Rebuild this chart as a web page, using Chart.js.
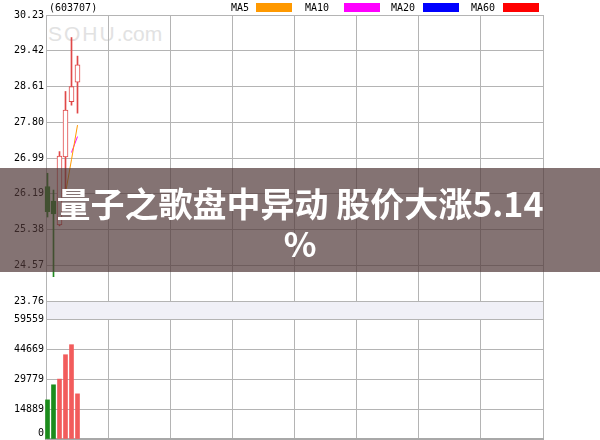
<!DOCTYPE html>
<html>
<head>
<meta charset="utf-8">
<script src="https://cdn.jsdelivr.net/npm/chart.js@4/dist/chart.umd.min.js"></script>
<style>
html,body{margin:0;padding:0;background:#fff;width:600px;height:440px;overflow:hidden;}
#wrap{position:relative;width:600px;height:440px;}
.abs{position:absolute;}
.mono{font-family:"DejaVu Sans Mono",monospace;font-size:10px;line-height:10px;color:#000;white-space:nowrap;}
.sw{position:absolute;top:3px;width:36px;height:9px;}
#wm{left:48px;top:22px;font-family:"Liberation Sans",Arial,sans-serif;font-size:21px;color:#e2e2e2;white-space:nowrap;}
#band{left:46px;top:302px;width:496px;height:17px;background:#f0f0f7;border-left:1px solid #b4b4b4;border-right:1px solid #b4b4b4;}
#banner{left:0;top:168px;width:600px;height:104px;background:rgba(80,55,55,0.7);color:#fff;font-family:"Noto Sans CJK SC",sans-serif;font-weight:700;font-size:34px;line-height:40px;text-align:center;padding-top:15px;box-sizing:border-box;z-index:10;}
canvas{position:absolute;left:0;}
</style>
</head>
<body>
<div id="wrap">
  <div id="wm" class="abs"><span style="letter-spacing:2px">SOHU</span>.com</div>
  <div id="band" class="abs"></div>
  <canvas id="price" width="600" height="310" style="top:0"></canvas>
  <canvas id="vol" width="600" height="130" style="top:310px"></canvas>
  <div class="abs mono" style="left:49px;top:3px">(603707)</div>
  <div class="abs mono" style="left:231px;top:3px">MA5</div>
  <div class="sw" style="left:256px;background:#ff9900"></div>
  <div class="abs mono" style="left:305px;top:3px">MA10</div>
  <div class="sw" style="left:344px;background:#ff00ff"></div>
  <div class="abs mono" style="left:391px;top:3px">MA20</div>
  <div class="sw" style="left:423px;background:#0000ff"></div>
  <div class="abs mono" style="left:471px;top:3px">MA60</div>
  <div class="sw" style="left:503px;background:#ff0000"></div>
  <div id="banner" class="abs">量子之歌盘中异动 股价大涨5.14<br>%</div>
</div>
<script>
// ---- data ----
const dayIndex = [0, 1, 2, 3, 4, 5];
const openPrice  = [26.35, 26.02, 25.48, 27.02, 28.27, 28.71];
const closePrice = [25.78, 25.73, 27.04, 28.08, 28.61, 29.10];
const highPrice  = [26.65, 26.27, 27.14, 28.50, 29.72, 29.30];
const lowPrice   = [25.66, 24.31, 25.46, 26.14, 28.19, 28.01];
const volume     = [19420, 26900, 29730, 41830, 46810, 22410];
const ma5  = [null, null, null, 26.20, 26.96, 27.74];
const ma10 = [null, null, null, null, 27.12, 27.48];
const priceTickLabels  = ['23.76', '24.57', '25.38', '26.19', '26.99', '27.80', '28.61', '29.42', '30.23'];
const volumeTickLabels = ['0', '14889', '29779', '44669', '59559'];

// ---- styling ----
const UP = '#e04848', DOWN = '#228b22';
const VOL_UP = '#f25c5c', VOL_DOWN = '#1c8c1c';
const GRID = '#b4b4b4';
const X_MIN = -0.25, X_MAX = -0.25 + 497 / 6;
const FONT = {family: 'DejaVu Sans Mono', size: 10};
const isUp = i => closePrice[i] >= openPrice[i];

function xAxis(borderWidth, borderColor) {
  return {
    type: 'linear', min: X_MIN, max: X_MAX, offset: false,
    afterBuildTicks: s => { s.ticks = [0,1,2,3,4,5,6,7,8].map(k => ({value: X_MIN + k * (X_MAX - X_MIN) / 8})); },
    afterFit: s => { s.height = 0; s.paddingLeft = 0; s.paddingRight = 0; },
    ticks: {display: false},
    grid: {color: GRID, lineWidth: 1, drawTicks: false, offset: false},
    border: {display: true, color: borderColor, width: borderWidth}
  };
}
function yAxis(labels, min, max, lastUp) {
  return {
    type: 'linear', min: min, max: max,
    afterBuildTicks: s => { s.ticks = labels.map((_, k) => ({value: min + k * (max - min) / (labels.length - 1)})); },
    afterFit: s => { s.width = 46; s.paddingTop = 0; s.paddingBottom = 0; },
    ticks: {autoSkip: false, padding: 2, color: '#000', font: FONT,
      callback: (v, k) => (lastUp && k === 0) ? [labels[k], ''] : labels[k]},
    grid: {color: GRID, lineWidth: 1, drawTicks: false},
    border: {display: true, color: GRID, width: 1}
  };
}

new Chart(document.getElementById('price'), {
  type: 'bar',
  data: {
    datasets: [
      {type: 'line', order: 0, data: dayIndex.map((d, i) => ({x: d, y: ma5[i]})),
       borderColor: '#ff9900', borderWidth: 1, pointRadius: 0, spanGaps: false, tension: 0},
      {type: 'line', order: 0, data: dayIndex.map((d, i) => ({x: d, y: ma10[i]})),
       borderColor: '#ff00ff', borderWidth: 1, pointRadius: 0, spanGaps: false, tension: 0},
      {order: 1, data: dayIndex.map((d, i) => ({x: d, y: [openPrice[i], closePrice[i]]})),
       backgroundColor: dayIndex.map(i => isUp(i) ? '#ffffff' : DOWN),
       borderColor: dayIndex.map(i => isUp(i) ? UP : DOWN),
       borderWidth: 1, borderSkipped: false, barThickness: 5, grouped: false, clip: false},
      {order: 2, data: dayIndex.map((d, i) => ({x: d, y: [lowPrice[i], highPrice[i]]})),
       backgroundColor: dayIndex.map(i => isUp(i) ? UP : DOWN),
       borderWidth: 0, barThickness: 1, grouped: false, clip: false}
    ]
  },
  options: {
    responsive: false, animation: false, devicePixelRatio: 1,
    layout: {padding: {top: 15, right: 57, bottom: 9, left: 0}},
    plugins: {legend: {display: false}, tooltip: {enabled: false}},
    scales: {x: xAxis(1, GRID), y: yAxis(priceTickLabels, 23.76, 30.23, false)}
  }
});

new Chart(document.getElementById('vol'), {
  type: 'bar',
  data: {
    datasets: [
      {data: dayIndex.map((d, i) => ({x: d, y: volume[i]})),
       backgroundColor: dayIndex.map(i => isUp(i) ? VOL_UP : VOL_DOWN),
       borderWidth: 0, barThickness: 4, grouped: false, clip: false}
    ]
  },
  options: {
    responsive: false, animation: false, devicePixelRatio: 1,
    layout: {padding: {top: 9, right: 57, bottom: 1, left: 0}},
    plugins: {legend: {display: false}, tooltip: {enabled: false}},
    scales: {x: xAxis(2, '#a8a8a8'), y: yAxis(volumeTickLabels, 0, 59559, true)}
  }
});
</script>
</body>
</html>
